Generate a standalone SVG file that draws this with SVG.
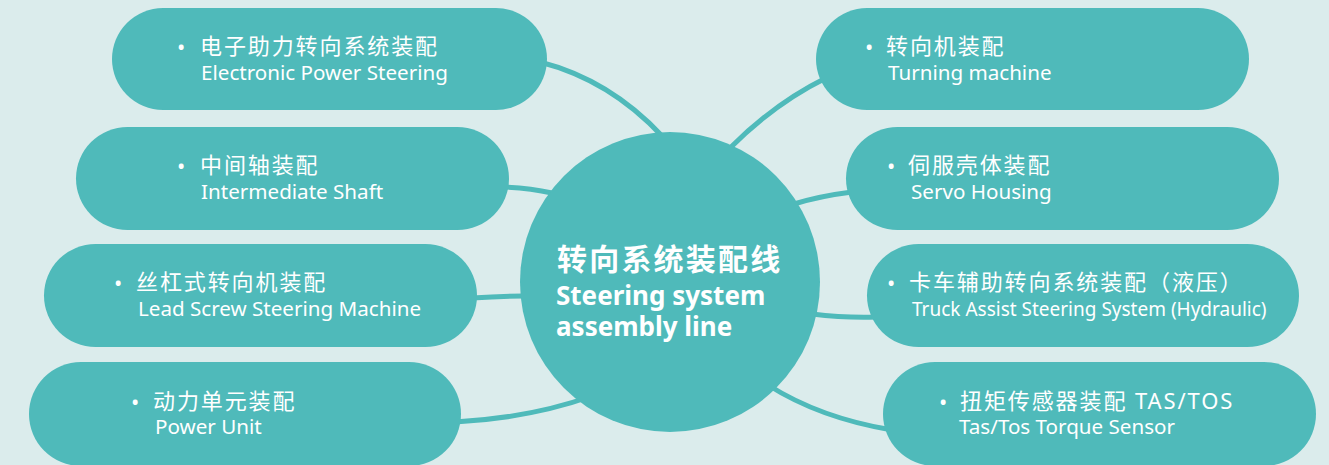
<svg xmlns="http://www.w3.org/2000/svg" width="1329" height="465" viewBox="0 0 1329 465">
<style>
.bg{fill:#dbecec}
.node{fill:#4fbaba}
.conn{fill:none;stroke:#4fbaba;stroke-width:5}
.cn{font-family:"Noto Sans","Noto Sans CJK SC",sans-serif;font-size:22px;fill:#ffffff;letter-spacing:1.9px}
.en{font-family:"Noto Sans","Noto Sans CJK SC",sans-serif;font-size:20.6px;fill:#ffffff}
.en2{font-family:"Noto Sans","Noto Sans CJK SC",sans-serif;font-size:19px;fill:#ffffff}
.bul{font-family:"Noto Sans",sans-serif;font-size:22px;fill:#ffffff}
.tcn{font-family:"Noto Sans","Noto Sans CJK SC",sans-serif;font-size:30px;font-weight:bold;fill:#ffffff;letter-spacing:2.2px}
.ten{font-family:"Noto Sans",sans-serif;font-size:26px;font-weight:bold;fill:#ffffff}
</style>
<rect class="bg" x="0" y="0" width="1329" height="465"/>
<g id="connectors">
<path class="conn" d="M540,62 Q610,80 662,136"/>
<path class="conn" d="M505,187 Q530,188 552,193"/>
<path class="conn" d="M472,298 Q500,296 524,296"/>
<path class="conn" d="M455,422 Q530,418 592,396"/>
<path class="conn" d="M826,78 Q775,103 730,148"/>
<path class="conn" d="M852,192 Q820,196 794,204"/>
<path class="conn" d="M876,317 Q845,318 812,314"/>
<path class="conn" d="M768,385 Q820,418 892,430"/>
</g>
<g id="center">
<circle class="node" cx="670" cy="282" r="150"/>
<text class="tcn" x="557" y="270">转向系统装配线</text>
<text class="ten" x="556" y="305">Steering system</text>
<text class="ten" x="556" y="336">assembly line</text>
</g>
<g id="n1">
<rect class="node" x="112" y="8" width="435" height="102" rx="51"/>
<text class="bul" x="177" y="55">•</text>
<text class="cn" x="200" y="54">电子助力转向系统装配</text>
<text class="en" x="201" y="80">Electronic Power Steering</text>
</g>
<g id="n2">
<rect class="node" x="76" y="127" width="433" height="103" rx="51.5"/>
<text class="bul" x="177" y="174">•</text>
<text class="cn" x="200" y="173">中间轴装配</text>
<text class="en" x="201" y="199">Intermediate Shaft</text>
</g>
<g id="n3">
<rect class="node" x="44" y="244" width="433" height="103" rx="51.5"/>
<text class="bul" x="114" y="291">•</text>
<text class="cn" x="136" y="290">丝杠式转向机装配</text>
<text class="en" x="138" y="316">Lead Screw Steering Machine</text>
</g>
<g id="n4">
<rect class="node" x="29" y="362" width="432" height="104" rx="52"/>
<text class="bul" x="131" y="410">•</text>
<text class="cn" x="153" y="409">动力单元装配</text>
<text class="en" x="155" y="434">Power Unit</text>
</g>
<g id="n5">
<rect class="node" x="816" y="8" width="433" height="102" rx="51"/>
<text class="bul" x="865" y="55">•</text>
<text class="cn" x="886" y="54">转向机装配</text>
<text class="en" x="888" y="80">Turning machine</text>
</g>
<g id="n6">
<rect class="node" x="846" y="127" width="433" height="103" rx="51.5"/>
<text class="bul" x="887" y="174">•</text>
<text class="cn" x="908" y="173">伺服壳体装配</text>
<text class="en" x="911" y="199">Servo Housing</text>
</g>
<g id="n7">
<rect class="node" x="867" y="244" width="432" height="103" rx="51.5"/>
<text class="bul" x="887" y="291">•</text>
<text class="cn" x="909" y="290">卡车辅助转向系统装配（液压）</text>
<text class="en2" x="912" y="316">Truck Assist Steering System (Hydraulic)</text>
</g>
<g id="n8">
<rect class="node" x="883" y="362" width="433" height="104" rx="52"/>
<text class="bul" x="939" y="410">•</text>
<text class="cn" x="960" y="409">扭矩传感器装配 TAS/TOS</text>
<text class="en" x="959" y="434">Tas/Tos Torque Sensor</text>
</g>
</svg>
